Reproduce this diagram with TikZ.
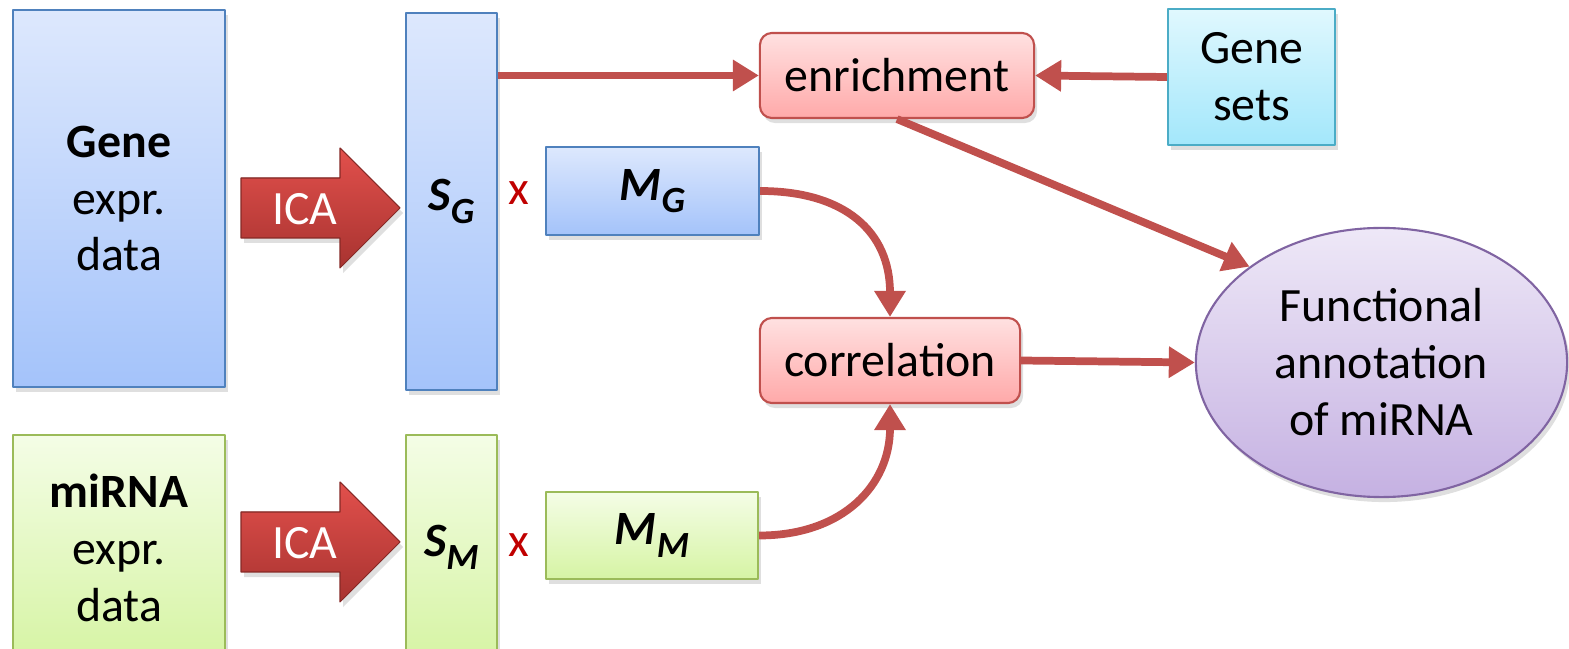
\documentclass[tikz,border=0pt]{standalone}
\usepackage{fontspec}
\setmainfont{Carlito}
\usetikzlibrary{arrows.meta,shapes.geometric,shadows}

\definecolor{blueTop}{HTML}{DDE8FD}
\definecolor{blueBot}{HTML}{A4C3FA}
\definecolor{blueLine}{HTML}{4F81BD}
\definecolor{greenTop}{HTML}{F4FDE6}
\definecolor{greenBot}{HTML}{D6F4A4}
\definecolor{greenLine}{HTML}{9BBB59}
\definecolor{redTop}{HTML}{FFE1E1}
\definecolor{redBot}{HTML}{FFA9A9}
\definecolor{redLine}{HTML}{C0504D}
\definecolor{cyanTop}{HTML}{E0F8FE}
\definecolor{cyanBot}{HTML}{A3E7FB}
\definecolor{cyanLine}{HTML}{4BACC6}
\definecolor{purpTop}{HTML}{EEE8F7}
\definecolor{purpBot}{HTML}{C5B1E2}
\definecolor{purpLine}{HTML}{8064A2}
\definecolor{icaTop}{HTML}{E2504C}
\definecolor{icaBot}{HTML}{A83330}
\definecolor{xRed}{HTML}{C00000}

% bold italic letter with a low index
\newcommand{\mvar}[2]{{\bfseries\itshape #1\raisebox{-3.6pt}{\fontsize{10.5}{10.5}\selectfont #2}}}

\begin{document}
\begin{tikzpicture}[x=0.01cm,y=-0.01cm,line join=round,
	font=\fontsize{13.6}{16.2}\selectfont,
	box/.style={line width=0.6pt,inner sep=0pt,align=center,
		drop shadow={shadow xshift=0.03cm,shadow yshift=-0.05cm,opacity=0.25}},
	bluebox/.style={box,draw=blueLine,top color=blueTop,bottom color=blueBot},
	greenbox/.style={box,draw=greenLine,top color=greenTop,bottom color=greenBot},
	redbox/.style={box,draw=redLine,top color=redTop,bottom color=redBot,rounded corners=0.12cm},
	icaarrow/.style={top color=icaTop,bottom color=icaBot,draw=icaBot!80!black,line width=0.3pt,
		drop shadow={shadow xshift=0.03cm,shadow yshift=-0.05cm,opacity=0.25}},
	conn/.style={draw=redLine,line width=2.2pt,-{Triangle[length=0.26cm,width=0.3cm]}}]
	\useasboundingbox (0,0) rectangle (1569,649);
	\clip (0,0) rectangle (1569,649);
	% Gene
	\node[bluebox,minimum width=2.12cm,minimum height=3.77cm] (gene) at (119,198.5) {\textbf{Gene}\\expr.\\data};
	\node[bluebox,minimum width=0.91cm,minimum height=3.77cm] (sg) at (451.5,201.5) {\mvar{S}{G}};
	\node[text=xRed] (xg) at (519,193) {x};
	\node[bluebox,minimum width=2.13cm,minimum height=0.88cm] (mg) at (652.5,191) {\mvar{M}{G}};
	% miRNA
	\node[greenbox,minimum width=2.12cm,minimum height=2.25cm] (mirna) at (119,547.5) {\textbf{miRNA}\\expr.\\data};
	\node[greenbox,minimum width=0.91cm,minimum height=2.25cm] (sm) at (451.5,547.5) {\mvar{S}{M}};
	\node[text=xRed] (xm) at (519,545) {x};
	\node[greenbox,minimum width=2.12cm,minimum height=0.87cm] (mm) at (652,535.5) {\mvar{M}{M}};
	% ICA
	\foreach \dy/\nm in {0/icag,334/icam}{
		\fill[icaarrow] (241,178+\dy) -- (340,178+\dy) -- (340,148+\dy) -- (400,208+\dy)
			-- (340,268+\dy) -- (340,238+\dy) -- (241,238+\dy) -- cycle;
		\node[text=white] (\nm) at (305,209+\dy) {ICA};
	}
	% Right part
	\node[redbox,minimum width=2.74cm,minimum height=0.85cm] (enrich) at (897,75.5) {enrichment};
	\node[redbox,minimum width=2.6cm,minimum height=0.85cm] (corr) at (890,360.5) {correlation};
	\node[box,draw=cyanLine,top color=cyanTop,bottom color=cyanBot,minimum width=1.67cm,minimum height=1.36cm] (genesets) at (1251.5,77) {Gene\\sets};
	\node[box,ellipse,draw=purpLine,top color=purpTop,bottom color=purpBot,minimum width=3.71cm,minimum height=2.69cm] (func) at (1381.5,362.5) {Functional\\annotation\\of miRNA};
	% Connectors
	\draw[conn] (sg.east |- enrich.west) -- (enrich.west);
	\draw[conn] (genesets.west) -- (enrich.east);
	\draw[conn] (enrich.south) -- (func.north west);
	\draw[conn] (mg.east) .. controls +(85,0) and +(0,-85) .. (corr.north);
	\draw[conn] (mm.east) .. controls +(85,0) and +(0,80) .. (corr.south);
	\draw[conn] (corr.east) -- (func.west);
\end{tikzpicture}
\end{document}
